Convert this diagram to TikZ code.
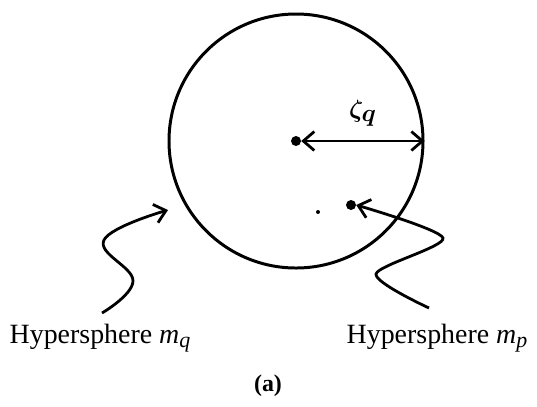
\documentclass[tikz,border=0pt]{standalone}
\usepackage{fontspec}
\setmainfont{Liberation Serif}
\usetikzlibrary{arrows.meta, positioning}

\begin{document}
\begin{tikzpicture}[
  x=1bp, y=-1bp,
  sphere/.style={circle, draw, line width=3pt, minimum size=254bp, inner sep=0pt},
  dot/.style={circle, fill, inner sep=0pt, minimum size=#1},
  tip/.style={Straight Barb[length=11pt, width=19pt, line width=2.8pt]},
  arr/.style={line width=2.8pt, -{Straight Barb[length=11pt, width=19pt, line width=2.8pt]}},
  lbl/.style={font=\fontsize{28}{32}\selectfont, inner sep=0pt}
]
  \useasboundingbox (0,0) rectangle (537,406);
  \node[sphere] (mq) at (296,141) {};
  \node[dot=10bp] (centre) at (296,141) {};
  \node[dot=10bp] (pcentre) at (351,205) {};
  \node[dot=4bp] (speck) at (318,212) {};
  \draw[line width=2.8pt, {Straight Barb[length=11pt, width=19pt, line width=2.8pt]}-{Straight Barb[length=11pt, width=19pt, line width=2.8pt]}]
    (centre.east) -- node[above=10bp, font=\fontsize{36}{38}\selectfont\boldmath] (zeta) {$\zeta_q$} (mq.east);
  % wavy pointers
  \coordinate (qtail) at (102,313);
  \coordinate (ptail) at (429,308);
  \draw[arr] plot[smooth, tension=0.7] coordinates {(qtail) (133,281) (104,240) (168,210)};
  \draw[arr] plot[smooth, tension=0.45] coordinates {(ptail) (376,274) (443,238) (pcentre.east)};
  \node[lbl] (qname) at (100,338) {Hypersphere \textit{m}\raisebox{-0.35ex}{\fontsize{22}{22}\selectfont\textit{q}}};
  \node[lbl] (pname) at (437,338) {Hypersphere \textit{m}\raisebox{-0.35ex}{\fontsize{22}{22}\selectfont\textit{p}}};
  \node[font=\fontsize{24}{28}\selectfont\bfseries] (cap) at (268,386) {(a)};
\end{tikzpicture}
\end{document}
